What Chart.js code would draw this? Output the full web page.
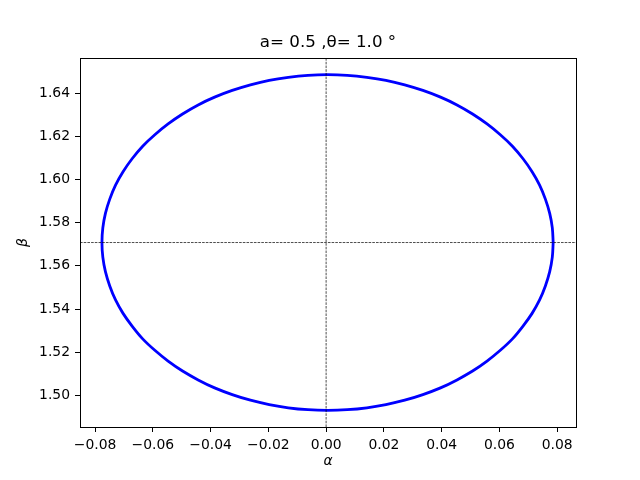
<!DOCTYPE html>
<html><head><meta charset="utf-8">
<script src="https://cdn.jsdelivr.net/npm/chart.js@4"></script>
<style>html,body{margin:0;padding:0;background:#fff}</style>
</head><body>
<canvas id="c" width="640" height="480"></canvas>
<script>
const alpha = [
  0.0786, 0.0783, 0.0774, 0.0759, 0.0739, 0.0713, 0.0681, 0.0645, 0.0603, 0.0557, 0.0507, 0.0453, 0.0396, 0.0335, 0.0272, 0.0207, 0.0141, 0.0073, 0.0005,
  -0.0063, -0.0131, -0.0197, -0.0262, -0.0325, -0.0386, -0.0443, -0.0497, -0.0547, -0.0593, -0.0635, -0.0671, -0.0703, -0.0729, -0.0749, -0.0764, -0.0773, -0.0776,
  -0.0773, -0.0764, -0.0749, -0.0729, -0.0703, -0.0671, -0.0635, -0.0593, -0.0547, -0.0497, -0.0443, -0.0386, -0.0325, -0.0262, -0.0197, -0.0131, -0.0063, 0.0005,
  0.0073, 0.0141, 0.0207, 0.0272, 0.0335, 0.0396, 0.0453, 0.0507, 0.0557, 0.0603, 0.0645, 0.0681, 0.0713, 0.0739, 0.0759, 0.0774, 0.0783, 0.0786
];
const beta = [
  1.5708, 1.5776, 1.5843, 1.5909, 1.5974, 1.6036, 1.6097, 1.6154, 1.6207, 1.6257, 1.6303, 1.6345, 1.6381, 1.6412, 1.6438, 1.6459, 1.6473, 1.6482, 1.6485,
  1.6482, 1.6473, 1.6459, 1.6438, 1.6412, 1.6381, 1.6345, 1.6303, 1.6257, 1.6207, 1.6154, 1.6097, 1.6036, 1.5974, 1.5909, 1.5843, 1.5776, 1.5708,
  1.5640, 1.5573, 1.5507, 1.5442, 1.5380, 1.5320, 1.5262, 1.5209, 1.5159, 1.5113, 1.5072, 1.5035, 1.5004, 1.4978, 1.4958, 1.4943, 1.4934, 1.4931,
  1.4934, 1.4943, 1.4958, 1.4978, 1.5004, 1.5035, 1.5072, 1.5113, 1.5159, 1.5209, 1.5262, 1.5320, 1.5380, 1.5442, 1.5507, 1.5573, 1.5640, 1.5708
];
const xTicks = [-0.08, -0.06, -0.04, -0.02, 0.00, 0.02, 0.04, 0.06, 0.08];
const yTicks = [1.50, 1.52, 1.54, 1.56, 1.58, 1.60, 1.62, 1.64];
const xLimits = [-0.0852, 0.0865];
const yLimits = [1.4854, 1.6562];
const refAlpha = 0;
const refBeta = 1.5708;
const titleText = 'a= 0.5 ,θ= 1.0 °';
const xLabel = 'α';
const yLabel = 'β';

function fmt(v) {
  const r = Math.round(v * 100);
  return (r < 0 ? '\u2212' : '') + (Math.abs(r) / 100).toFixed(2);
}

const frame = {
  id: 'frame',
  afterDatasetsDraw(chart) {
    const { ctx, chartArea: a } = chart;
    ctx.save();
    ctx.strokeStyle = '#000';
    ctx.lineWidth = 1;
    ctx.strokeRect(Math.round(a.left) + 0.5, Math.round(a.top) + 0.5,
      Math.round(a.right - a.left), Math.round(a.bottom - a.top));
    ctx.restore();
  }
};

const FONT = "'DejaVu Sans', sans-serif";

new Chart(document.getElementById('c'), {
  type: 'scatter',
  data: {
    datasets: [
      {
        data: [{ x: refAlpha, y: yLimits[0] }, { x: refAlpha, y: yLimits[1] }],
        showLine: true, borderColor: '#000', borderWidth: 0.7, borderDash: [2.6, 1.1], pointRadius: 0
      },
      {
        data: [{ x: xLimits[0], y: refBeta }, { x: xLimits[1], y: refBeta }],
        showLine: true, borderColor: '#000', borderWidth: 0.7, borderDash: [2.6, 1.1], pointRadius: 0
      },
      {
        data: alpha.map((a, i) => ({ x: a, y: beta[i] })),
        showLine: true, borderColor: '#0000ff', backgroundColor: '#0000ff',
        borderWidth: 2.8, pointRadius: 0, tension: 0.33, fill: false
      }
    ]
  },
  options: {
    responsive: false,
    animation: false,
    devicePixelRatio: 1,
    layout: { padding: { left: 16, right: 0, top: 0, bottom: 0 } },
    plugins: {
      legend: { display: false },
      tooltip: { enabled: false },
      title: {
        display: true, text: titleText, color: '#000',
        font: { family: FONT, size: 16.7, weight: 'normal', lineHeight: 1.2 },
        padding: { top: 33, bottom: 5 }
      }
    },
    scales: {
      x: {
        type: 'linear', position: 'bottom',
        min: xLimits[0], max: xLimits[1],
        afterFit: s => { s.height = 53; },
        afterBuildTicks: s => { s.ticks = xTicks.map(v => ({ value: v })); },
        border: { display: false },
        grid: { display: true, drawOnChartArea: false, drawTicks: true, tickLength: 5, tickColor: '#000', tickWidth: 1 },
        ticks: { color: '#000', font: { family: FONT, size: 13.9 }, padding: 5, maxRotation: 0, autoSkip: false, callback: v => fmt(v) },
        title: { display: true, text: xLabel, color: '#000', font: { family: FONT, size: 13.9, style: 'italic' }, padding: { top: 0, bottom: 10 } }
      },
      y: {
        type: 'linear', position: 'left',
        min: yLimits[0], max: yLimits[1],
        afterFit: s => { s.width = 64; },
        afterBuildTicks: s => { s.ticks = yTicks.map(v => ({ value: v })); },
        border: { display: false },
        grid: { display: true, drawOnChartArea: false, drawTicks: true, tickLength: 5, tickColor: '#000', tickWidth: 1 },
        ticks: { color: '#000', font: { family: FONT, size: 13.9 }, padding: 5, autoSkip: false, callback: v => fmt(v) },
        title: { display: true, text: yLabel, color: '#000', font: { family: FONT, size: 13.9, style: 'italic' }, padding: { top: -1.3, bottom: 0 } }
      },
      yRight: {
        type: 'linear', position: 'right',
        min: yLimits[0], max: yLimits[1],
        afterFit: s => { s.width = 64; },
        border: { display: false },
        grid: { display: false },
        ticks: { display: false }
      }
    }
  },
  plugins: [frame]
});
</script>
</body></html>
